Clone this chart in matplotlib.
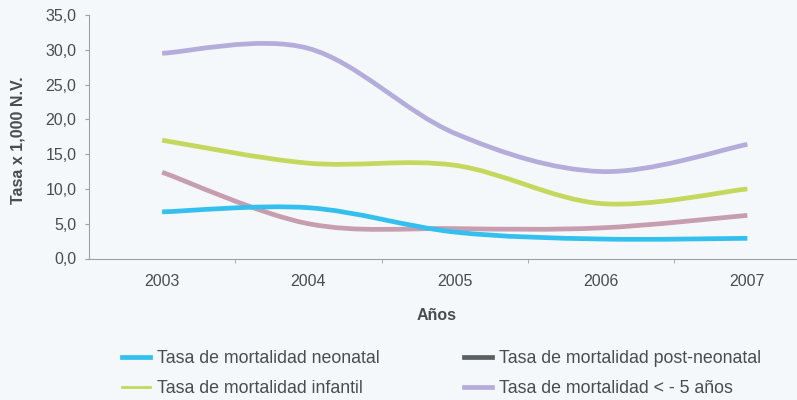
import matplotlib
matplotlib.use("Agg")
import matplotlib.pyplot as plt
from matplotlib.path import Path
from matplotlib.patches import PathPatch
from matplotlib.lines import Line2D
from matplotlib.ticker import FuncFormatter

years = ["2003", "2004", "2005", "2006", "2007"]
neonatal = [6.7, 7.3, 3.8, 2.8, 2.9]
post_neonatal = [12.4, 5.0, 4.3, 4.4, 6.2]
infantil = [17.0, 13.7, 13.4, 7.9, 10.0]
menor5 = [29.5, 30.2, 18.0, 12.5, 16.4]

c_neo = "#33c0ee"
c_post = "#c79db0"
c_inf = "#c3d85c"
c_men = "#b4acdb"
c_post_leg = "#5a6060"
txt = "#4a4d50"
bg = "#f5f8fa"

plt.rcParams["font.family"] = ["Liberation Sans", "DejaVu Sans"]


def smooth(ax, ys, color):
    # excel-like smoothed line, bezier through every point
    xs = list(range(len(ys)))
    pts = list(zip(xs, ys))
    n = len(pts)
    verts = [pts[0]]
    codes = [Path.MOVETO]
    for i in range(n - 1):
        p0 = pts[i - 1] if i > 0 else pts[i]
        p1 = pts[i]
        p2 = pts[i + 1]
        p3 = pts[i + 2] if i + 2 < n else pts[i + 1]
        c1 = (p1[0] + (p2[0] - p0[0]) / 6, p1[1] + (p2[1] - p0[1]) / 6)
        c2 = (p2[0] - (p3[0] - p1[0]) / 6, p2[1] - (p3[1] - p1[1]) / 6)
        verts += [c1, c2, p2]
        codes += [Path.CURVE4] * 3
    patch = PathPatch(Path(verts, codes), facecolor="none", edgecolor=color,
                      lw=3.4, capstyle="butt", transform=ax.transData)
    ax.add_patch(patch)


fig = plt.figure(figsize=(7.97, 4.0), dpi=100, facecolor=bg)
ax = fig.add_axes([89 / 797, 1 - 258.5 / 400, 731.5 / 797, 243.5 / 400])
ax.set_facecolor(bg)

smooth(ax, menor5, c_men)
smooth(ax, infantil, c_inf)
smooth(ax, post_neonatal, c_post)
smooth(ax, neonatal, c_neo)

ax.set_xlim(-0.5, len(years) - 0.5)
ax.set_ylim(0, 35)
ax.set_yticks(range(0, 36, 5))
ax.yaxis.set_major_formatter(FuncFormatter(lambda v, p: f"{v:.1f}".replace(".", ",")))
ax.set_xticks(range(len(years)))
ax.set_xticklabels(years)
ax.set_xticks([i + 0.5 for i in range(len(years))], minor=True)
ax.tick_params(axis="x", which="major", length=0, pad=11, labelsize=11.5, labelcolor=txt)
ax.tick_params(axis="x", which="minor", length=3, color="#a0a0a0")
ax.tick_params(axis="y", length=3, color="#a0a0a0", pad=6, labelsize=11.5, labelcolor=txt)

for s in ["top", "right"]:
    ax.spines[s].set_visible(False)
ax.spines["left"].set_color("#a0a0a0")
ax.spines["bottom"].set_color("#a0a0a0")

fig.text(18 / 797, 1 - 140 / 400, "Tasa x 1,000 N.V.", rotation=90, ha="center", va="center",
         fontsize=11.5, fontweight="bold", color=txt)
fig.text(437 / 797, 1 - 316 / 400, "Años", ha="center", va="center",
         fontsize=11.5, fontweight="bold", color=txt)

h1 = [Line2D([], [], color=c_neo, lw=3.4), Line2D([], [], color=c_inf, lw=2)]
h2 = [Line2D([], [], color=c_post_leg, lw=3.4), Line2D([], [], color=c_men, lw=3.4)]
kw = dict(loc="upper left", frameon=False, handlelength=1.6,
          handletextpad=0.35, labelspacing=0.75, labelcolor=txt,
          prop={"size": 12.8})
fig.legend(h1, ["Tasa de mortalidad neonatal", "Tasa de mortalidad infantil"],
           bbox_to_anchor=(106 / 797, 1 - 334 / 400), **kw)
fig.legend(h2, ["Tasa de mortalidad post-neonatal", "Tasa de mortalidad < - 5 años"],
           bbox_to_anchor=(448 / 797, 1 - 334 / 400), **kw)

fig.savefig("out.png", dpi=100, facecolor=bg)
